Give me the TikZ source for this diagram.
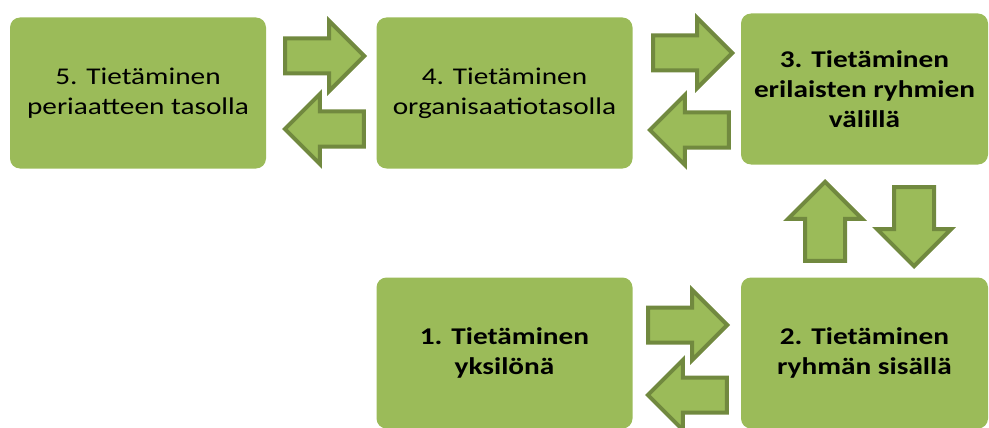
\documentclass[tikz,border=0pt]{standalone}
\usepackage{fontspec}
\setmainfont{Carlito}[FakeStretch=1.22]
\usepackage{xcolor}
\usetikzlibrary{shapes,positioning}
\definecolor{boxgreen}{HTML}{9BBB59}
\definecolor{arrowline}{HTML}{71893F}

\begin{document}
\begin{tikzpicture}[x=1pt,y=-1pt]
  \tikzset{ t/.style={rectangle,rounded corners=10pt,fill=boxgreen,text=black,align=center,
      inner sep=0pt,minimum width=256pt,minimum height=151pt,font=\fontsize{24}{30}\selectfont},
    tb/.style={t,font=\fontsize{24}{30}\selectfont\bfseries},
    a/.style={single arrow,draw=arrowline,fill=boxgreen,line width=4pt,inner xsep=0pt,inner ysep=15.5pt,
      minimum height=79pt,single arrow head extend=17.5pt,anchor=tip},
    av/.style={a,inner ysep=18pt,single arrow head extend=17pt},
  }
  \useasboundingbox (0,0) rectangle (989,428);

  % the boxes
  \node[t] (T5) at (138,93) {5. Tietäminen\\periaatteen tasolla};
  \node[t] (T4) at (504.5,93) {4. Tietäminen\\organisaatiotasolla};
  \node[tb,minimum width=247pt] (T3) at (864.5,89) {3. Tietäminen\\erilaisten ryhmien\\välillä};
  \node[tb] (T1) at (504.5,353) {1. Tietäminen\\yksilönä};
  \node[tb,minimum width=247pt] (T2) at (864.5,353) {2. Tietäminen\\ryhmän sisällä};

  % the arrows between the boxes (placed by their tips)
  \node[a] (a54) at (367,56) {};
  \node[a,rotate=180] (a45) at (282,129) {};
  \node[a] (a43) at (735,53) {};
  \node[a,rotate=180] (a34) at (647,130) {};
  \node[a] (a12) at (730,325) {};
  \node[a,rotate=180] (a21) at (645,395) {};
  \node[av,rotate=90] (a23) at (825,179) {};
  \node[av,rotate=-90] (a32) at (914,269) {};
\end{tikzpicture}
\end{document}
